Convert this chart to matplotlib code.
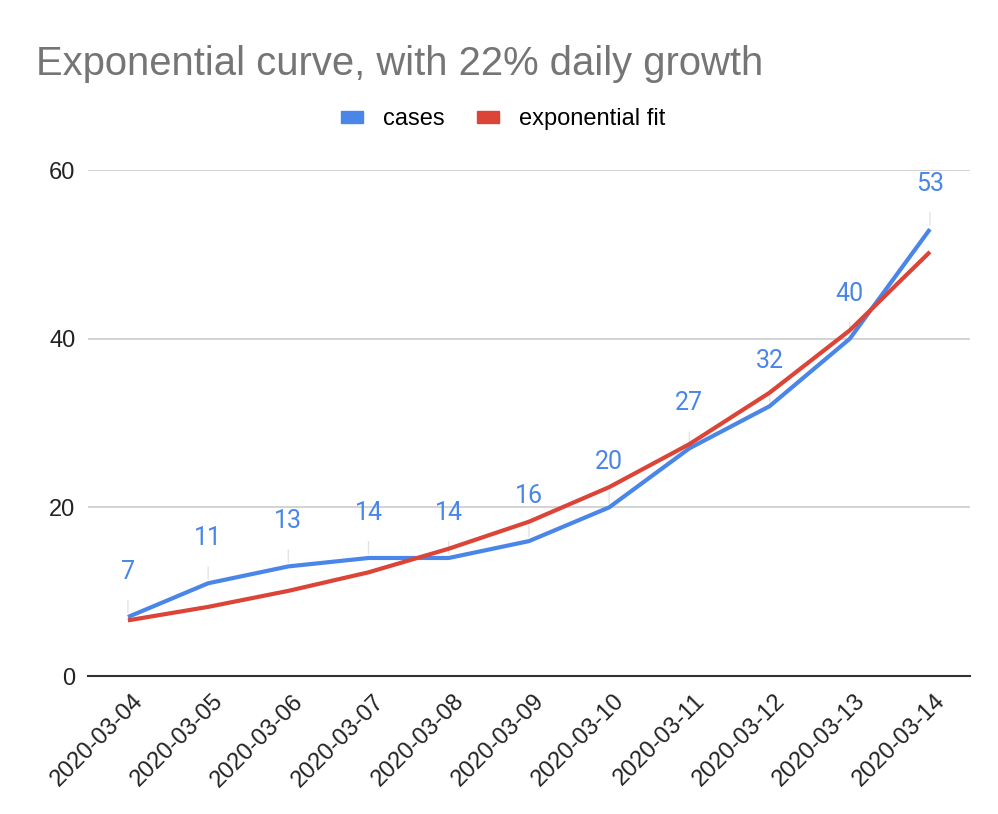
import matplotlib.pyplot as plt
import matplotlib.transforms as mtransforms
from matplotlib.patches import Patch

# Chart data
dates = ["2020-03-04", "2020-03-05", "2020-03-06", "2020-03-07", "2020-03-08",
         "2020-03-09", "2020-03-10", "2020-03-11", "2020-03-12", "2020-03-13",
         "2020-03-14"]
cases = [7, 11, 13, 14, 14, 16, 20, 27, 32, 40, 53]
exp_fit = [6.6, 8.2, 10.1, 12.3, 15.1, 18.3, 22.4, 27.5, 33.6, 41.0, 50.3]

BLUE = "#4a86e8"
RED = "#db4437"
FONT = "Liberation Sans"

fig = plt.figure(figsize=(9.98, 8.14), dpi=100)
ax = fig.add_axes([0.088, 0.1695, 0.884, 0.6215])

x = list(range(len(dates)))
ax.plot(x, cases, color=BLUE, lw=3, solid_capstyle="butt", zorder=3)
ax.plot(x, exp_fit, color=RED, lw=3, solid_capstyle="butt", zorder=4)

# data labels with leader lines
for xi, v in zip(x, cases):
    ax.annotate(str(v), xy=(xi, v), xytext=(0, 45), textcoords="offset pixels",
                ha="center", va="center", color=BLUE, fontsize=18,
                family="Roboto", annotation_clip=False,
                arrowprops=dict(arrowstyle="-", color="#e3e3e3", lw=1,
                                shrinkA=10, shrinkB=3))

ax.set_xlim(-0.5, len(dates) - 0.5)
ax.set_ylim(0, 60)
ax.set_yticks([0, 20, 40, 60])
ax.set_xticks(x)
ax.set_xticklabels([])
for lab in ax.get_yticklabels():
    lab.set_family(FONT)
    lab.set_fontsize(17)
    lab.set_color("#222222")
ax.tick_params(axis="both", length=0)
ax.tick_params(axis="y", pad=9)

# rotated date labels, shifted a little right of each tick
trans = ax.get_xaxis_transform() + mtransforms.ScaledTranslation(
    12 / 100, -22 / 100, fig.dpi_scale_trans)
for xi, d in zip(x, dates):
    ax.text(xi, 0, d, transform=trans, rotation=45, rotation_mode="anchor",
            ha="right", va="center", family=FONT, fontsize=17, color="#222222")

ax.grid(axis="y", color="#cccccc", lw=1.2)
ax.set_axisbelow(True)
for s in ["top", "right", "left"]:
    ax.spines[s].set_visible(False)
ax.spines["bottom"].set_color("#333333")
ax.spines["bottom"].set_linewidth(1.5)

fig.text(0.036, 1 - 75 / 814, "Exponential curve, with 22% daily growth",
         family=FONT, fontsize=28.8, color="#757575", va="baseline")

handles = [Patch(color=BLUE, label="cases"), Patch(color=RED, label="exponential fit")]
fig.legend(handles=handles, loc="center", bbox_to_anchor=(0.504, 1 - 119 / 814),
           ncol=2, frameon=False, prop={"family": FONT, "size": 17},
           handlelength=0.95, handleheight=0.4, handletextpad=0.85, columnspacing=1.35)

fig.savefig("out.png", dpi=100)
